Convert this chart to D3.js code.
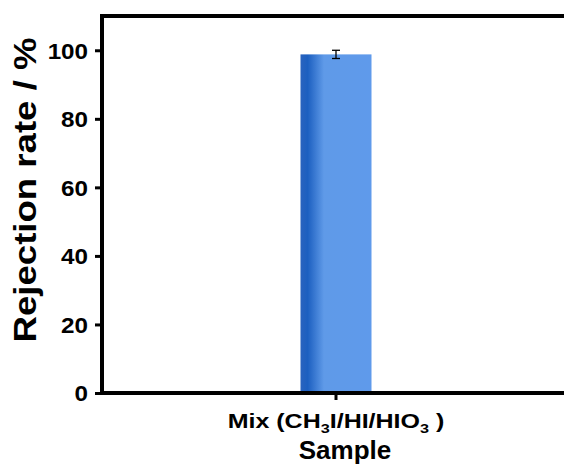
<!DOCTYPE html>
<html><head><meta charset="utf-8">
<script src="https://cdn.jsdelivr.net/npm/d3@7"></script>
<style>body{margin:0;background:#fff}svg{display:block}text{font-family:Arial,"Liberation Sans",sans-serif;font-weight:bold}</style>
</head><body><svg id="c" width="564" height="466"></svg>
<script>
const categories = ["Mix"];
const values = [98.8];
const errors = [1.2];
const yTicks = [0, 20, 40, 60, 80, 100];

const svg = d3.select("#c");
const m = {l:102, t:16, r:-6, b:73};
const W = 564, H = 466;
const x = d3.scaleBand().domain(categories).range([m.l, W - m.r]).paddingInner(0).paddingOuter(0);
const y = d3.scaleLinear().domain([0, 110]).range([H - m.b, m.t]);

const defs = svg.append("defs");
const g = defs.append("linearGradient").attr("id","bg").attr("x1","0").attr("x2","1").attr("y1","0").attr("y2","0");
g.append("stop").attr("offset","0").attr("stop-color","#2a63be");
g.append("stop").attr("offset","0.1").attr("stop-color","#1c5fc0");
g.append("stop").attr("offset","0.33").attr("stop-color","#5f9ae8");
g.append("stop").attr("offset","1").attr("stop-color","#5f9aeb");

const bw = 71;
svg.selectAll("rect.bar").data(categories).enter().append("rect")
  .attr("class","bar")
  .attr("x", d => x(d) + x.bandwidth()/2 - bw/2)
  .attr("width", bw)
  .attr("y", (d,i) => y(values[i]))
  .attr("height", (d,i) => y(0) - y(values[i]))
  .attr("fill","url(#bg)");

// error bars
categories.forEach((d,i) => {
  const cx = x(d) + x.bandwidth()/2;
  const eg = svg.append("g").attr("stroke","#000").attr("stroke-width",1.3);
  eg.append("line").attr("x1",cx).attr("x2",cx).attr("y1",y(values[i]+errors[i])).attr("y2",y(values[i]-errors[i]));
  eg.append("line").attr("x1",cx-4).attr("x2",cx+4).attr("y1",y(values[i]+errors[i])).attr("y2",y(values[i]+errors[i]));
  eg.append("line").attr("x1",cx-4).attr("x2",cx+4).attr("y1",y(values[i]-errors[i])).attr("y2",y(values[i]-errors[i]));
});

// axes
const yAxis = svg.append("g").attr("transform",`translate(${m.l},0)`)
  .call(d3.axisLeft(y).tickValues(yTicks).tickSize(7).tickPadding(0));
yAxis.select(".domain").remove();
yAxis.selectAll(".tick line").attr("stroke","#000").attr("stroke-width",3);
yAxis.selectAll(".tick text")
  .attr("x", null)
  .attr("transform","translate(-14,0) scale(1.1,1)")
  .style("font-size","22px").style("font-weight","bold").style("font-family","Arial, 'Liberation Sans', sans-serif")
  .attr("fill","#000").attr("dy","0.36em");

const xAxis = svg.append("g").attr("transform",`translate(0,${y(0)})`)
  .call(d3.axisBottom(x).tickSize(7).tickFormat(""));
xAxis.select(".domain").remove();
xAxis.selectAll(".tick line").attr("stroke","#000").attr("stroke-width",3);

// frame lines
svg.append("line").attr("x1",m.l).attr("x2",W+5).attr("y1",y(0)).attr("y2",y(0)).attr("stroke","#000").attr("stroke-width",4);
svg.append("line").attr("x1",m.l).attr("x2",W+5).attr("y1",m.t).attr("y2",m.t).attr("stroke","#000").attr("stroke-width",4);
svg.append("line").attr("x1",m.l).attr("x2",m.l).attr("y1",m.t-2).attr("y2",y(0)+2).attr("stroke","#000").attr("stroke-width",4);

// x tick label with subscripts
const cx0 = x(categories[0]) + x.bandwidth()/2;
const lt = svg.append("text").attr("transform",`translate(${cx0},428) scale(1.25,1)`).attr("text-anchor","middle").style("font-size","20px").attr("fill","#000");
lt.append("tspan").text("Mix (CH");
lt.append("tspan").style("font-size","13px").attr("dy",5).text("3");
lt.append("tspan").attr("dy",-5).text("I/HI/HIO");
lt.append("tspan").style("font-size","13px").attr("dy",5).text("3");
lt.append("tspan").attr("dy",-5).text(" )");

svg.append("text").attr("x",345).attr("y",459).attr("text-anchor","middle").style("font-size","26px").attr("fill","#000").text("Sample");
svg.append("text").attr("transform","translate(36,190) rotate(-90)").attr("text-anchor","middle").style("font-size","31px").attr("textLength",305).attr("lengthAdjust","spacingAndGlyphs").attr("fill","#000").text("Rejection rate / %");
</script></body></html>
